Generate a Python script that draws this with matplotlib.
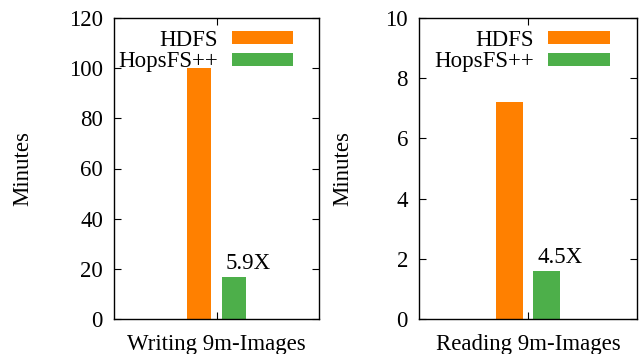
import matplotlib
matplotlib.use("Agg")
import matplotlib.pyplot as plt

plt.rcParams['font.family'] = ['Liberation Serif', 'DejaVu Serif']

series = ["HDFS", "HopsFS++"]
colors = ["#ff8000", "#4daf4a"]

write_label = "Writing 9m-Images"
write_values = [100, 16.9]
write_speedup = "5.9X"

read_label = "Reading 9m-Images"
read_values = [7.2, 1.6]
read_speedup = "4.5X"

fig = plt.figure(figsize=(6.39, 3.54), dpi=100)
ax1 = fig.add_axes([114/639, 35/354, 205/639, 301/354])
ax2 = fig.add_axes([419/639, 35/354, 218/639, 301/354])

FS = 16.5
offsets = [-0.17, 0.17]
width = 0.24

def draw(ax, label, values, speedup, ymax, yticks, ylab_x):
    for i, (s, v, c) in enumerate(zip(series, values, colors)):
        ax.bar(offsets[i], v, width=width, color=c, label=s)
    ax.annotate(speedup, (offsets[1] - width/2, values[1]), xytext=(3, 2),
                textcoords='offset points', ha='left', va='bottom', fontsize=FS)
    ax.set_xlim(-1, 1)
    ax.set_ylim(0, ymax)
    ax.set_yticks(yticks)
    ax.set_xticks([0])
    ax.set_xticklabels([label])
    ax.tick_params(direction='in', top=True, right=True, labelsize=FS, length=5, width=0.8)
    ax.tick_params(axis='y', pad=8)
    ax.tick_params(axis='x', pad=11)
    ax.set_ylabel("Minutes", fontsize=FS)
    ax.yaxis.set_label_coords(ylab_x, 0.5)
    for sp in ax.spines.values():
        sp.set_linewidth(1.0)
    ax.legend(loc='upper right', bbox_to_anchor=(0.875, 0.96), frameon=False,
              markerfirst=False, fontsize=FS, handlelength=2.7, handleheight=0.5,
              handletextpad=0.6, labelspacing=0.02, borderpad=0, borderaxespad=0)

draw(ax1, write_label, write_values, write_speedup, 120, [0, 20, 40, 60, 80, 100, 120], -0.395)
draw(ax2, read_label, read_values, read_speedup, 10, [0, 2, 4, 6, 8, 10], -0.303)

fig.savefig("out.png", dpi=100)
